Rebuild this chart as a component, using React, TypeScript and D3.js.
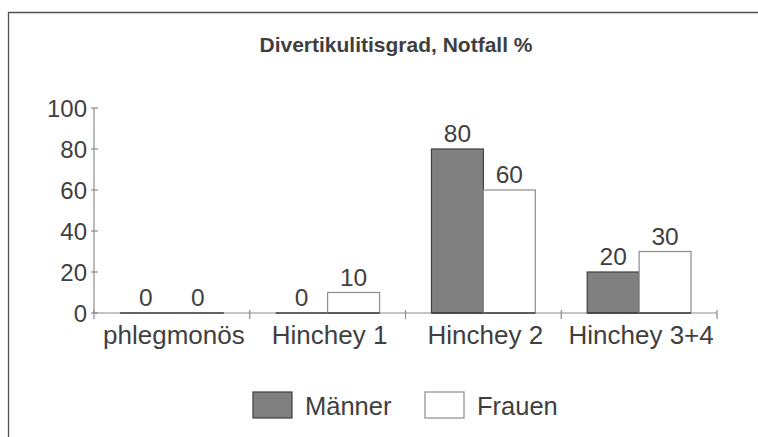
import React from "react";
import * as d3 from "d3";

const categories = ["phlegmonös", "Hinchey 1", "Hinchey 2", "Hinchey 3+4"];
const seriesNames = ["Männer", "Frauen"];
const maennerValues = [0, 0, 80, 20];
const frauenValues = [0, 10, 60, 30];
const yTicks = [0, 20, 40, 60, 80, 100];
const title = "Divertikulitisgrad, Notfall %";

const W = 758;
const H = 437;
const FONT = "'Liberation Sans', Arial, Helvetica, sans-serif";
const TEXT = "#3f3f3f";
const AXIS = "#8c8c8c";
const fills: Record<string, string> = { "Männer": "#808080", "Frauen": "#ffffff" };
const strokes: Record<string, string> = { "Männer": "#404040", "Frauen": "#8c8c8c" };

export default function App() {
  const x0 = d3.scaleBand<string>().domain(categories).range([94, 717]).paddingInner(0).paddingOuter(0);
  const x1 = d3.scaleBand<string>().domain(seriesNames).range([0, x0.bandwidth()]).paddingInner(0).paddingOuter(0.5);
  const y = d3.scaleLinear().domain([0, 100]).range([313, 108]);
  const valuesBySeries: Record<string, number[]> = { "Männer": maennerValues, "Frauen": frauenValues };
  const boundaries = [...categories.map((c) => x0(c) as number), x0.range()[1]];

  return (
    <svg width={W} height={H} style={{ position: "absolute", left: 0, top: 0, background: "#fff" }}>
      <rect x={0} y={0} width={W} height={H} fill="#fff" />
      {/* frame */}
      <line x1={8} x2={W} y1={12.5} y2={12.5} stroke="#505050" strokeWidth={1.3} />
      <line x1={8.5} x2={8.5} y1={12} y2={H} stroke="#505050" strokeWidth={1.3} />

      {/* title */}
      <text x={396} y={52} textAnchor="middle" fontFamily={FONT} fontWeight="bold" fontSize={21} fill={TEXT}>
        {title}
      </text>

      {/* y axis */}
      <line x1={94} x2={94} y1={y(100)} y2={y(0)} stroke={AXIS} strokeWidth={1.2} />
      {yTicks.map((t) => (
        <g key={t}>
          <line x1={91} x2={98} y1={y(t)} y2={y(t)} stroke={AXIS} strokeWidth={1.2} />
          <text x={87} y={y(t)} dy="0.36em" textAnchor="end" fontFamily={FONT} fontSize={24} fill={TEXT}>
            {t}
          </text>
        </g>
      ))}

      {/* x axis */}
      <line x1={x0.range()[0]} x2={x0.range()[1]} y1={y(0)} y2={y(0)} stroke={AXIS} strokeWidth={1.2} />
      {boundaries.map((b, i) => (
        <line key={i} x1={b} x2={b} y1={y(0) - 3} y2={y(0) + 6} stroke={AXIS} strokeWidth={1.2} />
      ))}
      {categories.map((c) => (
        <text key={c} x={(x0(c) as number) + x0.bandwidth() / 2 + 2} y={344} textAnchor="middle" fontFamily={FONT} fontSize={26} fill={TEXT}>
          {c}
        </text>
      ))}

      {/* bars */}
      {categories.map((c, ci) => (
        <g key={c}>
          {seriesNames.map((s) => {
            const v = valuesBySeries[s][ci];
            const bx = (x0(c) as number) + (x1(s) as number);
            const bw = x1.bandwidth();
            return (
              <g key={s}>
                <rect x={bx} y={y(v)} width={bw} height={y(0) - y(v)} fill={fills[s]} stroke={strokes[s]} strokeWidth={1.2} />
                <line x1={bx} x2={bx + bw} y1={y(0)} y2={y(0)} stroke="#404040" strokeWidth={1.5} />
                <text x={bx + bw / 2} y={y(v) - 7} textAnchor="middle" fontFamily={FONT} fontSize={24.5} fill={TEXT}>
                  {v}
                </text>
              </g>
            );
          })}
        </g>
      ))}

      {/* legend */}
      {seriesNames.map((s, i) => {
        const lx = [253, 425][i];
        return (
          <g key={s}>
            <rect x={lx} y={392} width={39} height={26} fill={fills[s]} stroke={strokes[s]} strokeWidth={1.2} />
            <text x={lx + 52} y={415} fontFamily={FONT} fontSize={25.5} fill={TEXT}>
              {s}
            </text>
          </g>
        );
      })}
    </svg>
  );
}
